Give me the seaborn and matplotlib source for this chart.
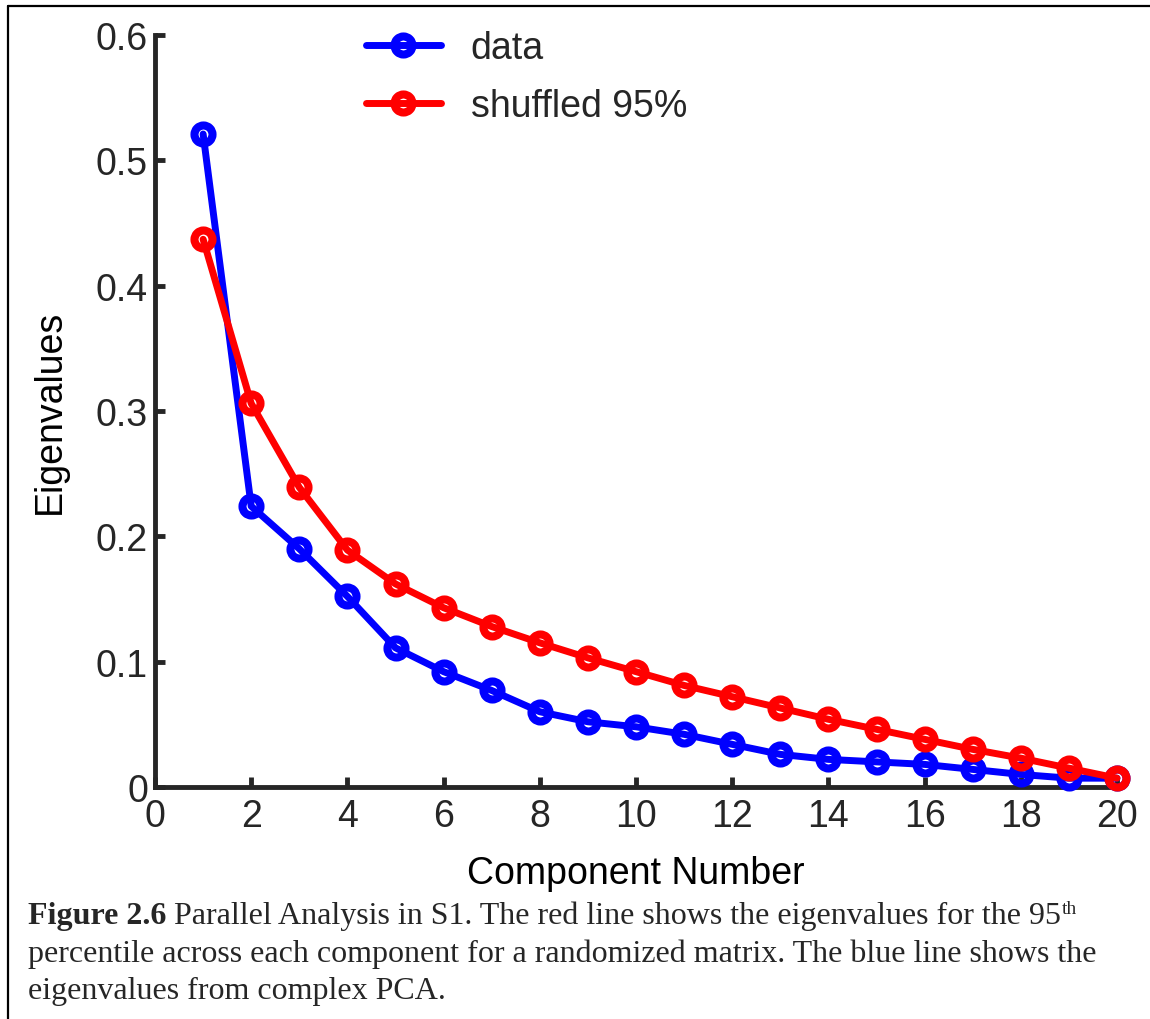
import numpy as np
import pandas as pd
import matplotlib
matplotlib.use("Agg")
import matplotlib.pyplot as plt
from matplotlib.lines import Line2D
import seaborn as sns

components = list(range(1, 21))
data_eig = [0.521, 0.224, 0.190, 0.152, 0.111, 0.092, 0.077, 0.060, 0.052, 0.048,
            0.042, 0.034, 0.026, 0.022, 0.020, 0.018, 0.014, 0.010, 0.007, 0.007]
shuffled_eig = [0.437, 0.306, 0.239, 0.189, 0.162, 0.143, 0.128, 0.115, 0.103, 0.092,
                0.081, 0.072, 0.063, 0.054, 0.046, 0.038, 0.030, 0.023, 0.015, 0.007]
series_labels = ["data", "shuffled 95%"]
series_colors = ["#0000FF", "#FF0000"]
x_ticks = list(range(0, 21, 2))
y_ticks = [0, 0.1, 0.2, 0.3, 0.4, 0.5, 0.6]
y_ticklabels = ["0", "0.1", "0.2", "0.3", "0.4", "0.5", "0.6"]

sns.set_theme(style="white")
plt.rcParams["font.family"] = ["Liberation Sans", "DejaVu Sans"]

fig = plt.figure(figsize=(11.5, 10.2), dpi=100)
ax = fig.add_axes([0.1348, 0.2275, 0.9713 - 0.1348, 0.9647 - 0.2275])

df = pd.DataFrame({"comp": components, "data": data_eig, "shuffled": shuffled_eig})
for col, lab, c in zip(["data", "shuffled"], series_labels, series_colors):
    sns.lineplot(data=df, x="comp", y=col, ax=ax, color=c, label=lab,
                 marker="o", markersize=13, markerfacecolor="none",
                 markeredgecolor=c, markeredgewidth=5.8, linewidth=5,
                 clip_on=False, zorder=3)

ax.set_xlim(0, 20)
ax.set_ylim(0, 0.6)
ax.set_xticks(x_ticks)
ax.set_xticklabels([str(t) for t in x_ticks])
ax.set_yticks(y_ticks)
ax.set_yticklabels(y_ticklabels)

spine_c = "#262626"
for s in ["top", "right"]:
    ax.spines[s].set_visible(False)
for s in ["left", "bottom"]:
    ax.spines[s].set_linewidth(3.5)
    ax.spines[s].set_color(spine_c)
ax.tick_params(axis="both", direction="in", length=7, width=3.5, color=spine_c,
               labelsize=27, labelcolor=spine_c, pad=8,
               left=True, bottom=True)
ax.tick_params(axis="y", pad=5)
ax.set_xlabel("Component Number", fontsize=27, color="black", labelpad=15)
ax.set_ylabel("Eigenvalues", fontsize=27, color="black", labelpad=20)

leg = ax.legend(loc="upper left", bbox_to_anchor=(0.184, 1.052), frameon=False,
                fontsize=27, handlelength=2.0, handletextpad=0.8, labelspacing=0.6)

# Caption
serif = ["Liberation Serif", "DejaVu Serif"]
cap_fs = 23.0
t1 = fig.text(28 / 1150, 1 - 924 / 1020, "Figure 2.6", fontsize=cap_fs,
              fontweight="bold", family=serif, va="baseline", ha="left")
t1b = ax.annotate(" Parallel Analysis in S1. The red line shows the eigenvalues for the 95",
                  xy=(1, 0), xycoords=t1, va="bottom", ha="left",
                  fontsize=cap_fs, family=serif, annotation_clip=False)
ax.annotate("th", xy=(1, 1), xycoords=t1b, va="top", ha="left",
            fontsize=14, family=serif, annotation_clip=False)
fig.text(28 / 1150, 1 - 962 / 1020,
         "percentile across each component for a randomized matrix. The blue line shows the",
         fontsize=cap_fs, family=serif, va="baseline", ha="left")
fig.text(28 / 1150, 1 - 999 / 1020, "eigenvalues from complex PCA.",
         fontsize=cap_fs, family=serif, va="baseline", ha="left")

# Border lines (top and left)
fig.add_artist(Line2D([8 / 1150, 1.0], [1 - 7 / 1020, 1 - 7 / 1020],
                      transform=fig.transFigure, color="black", linewidth=1.6))
fig.add_artist(Line2D([8 / 1150, 8 / 1150], [0, 1 - 7 / 1020],
                      transform=fig.transFigure, color="black", linewidth=1.6))

fig.savefig("out.png", dpi=100)
